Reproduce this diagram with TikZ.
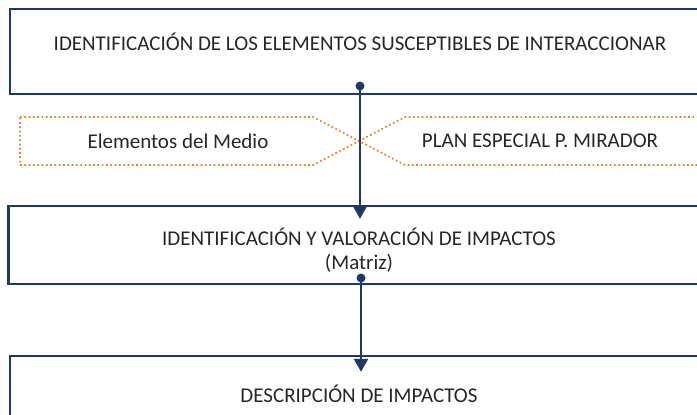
\documentclass[tikz,border=0pt]{standalone}
\usepackage{fontspec}
\setmainfont{Carlito}
\usetikzlibrary{arrows.meta}
\definecolor{navy}{HTML}{1F3864}
\definecolor{orng}{HTML}{ED7D31}
\definecolor{txt}{HTML}{262626}
\tikzset{
  stagebox/.style={draw=navy, line width=2.4pt, rectangle, inner sep=0pt},
  stagetext/.style={text=txt, font=\fontsize{21}{24}\selectfont, align=center, inner sep=0pt},
  sidetext/.style={text=txt, font=\fontsize{21}{24}\selectfont, inner sep=0pt},
  pin/.style={circle, fill=navy, inner sep=0pt, minimum size=9pt},
  flow/.style={draw=navy, line width=2.4pt, -{Triangle[width=14pt,length=13pt]}},
  dotline/.style={draw=orng, line width=1.7pt, dash pattern=on 1.7pt off 2.6pt}
}
\begin{document}
\begin{tikzpicture}[x=1pt,y=-1pt]
\useasboundingbox (0,0) rectangle (697,415);
\clip (0,0) rectangle (697,415);
% boxes
\node[stagebox, minimum width=700pt, minimum height=85pt] (box1) at (360,51.5) {};
\node[stagetext] (t1) at (360,42) {IDENTIFICACIÓN DE LOS ELEMENTOS SUSCEPTIBLES DE INTERACCIONAR};
\node[stagebox, minimum width=702pt, minimum height=78pt] (box2) at (359.5,245) {};
\node[stagetext] (t2) at (359,250) {IDENTIFICACIÓN Y VALORACIÓN DE IMPACTOS\\(Matriz)};
\node[stagebox, minimum width=700pt, minimum height=90pt] (box3) at (360,401) {};
\node[stagetext] (t3) at (359,394) {DESCRIPCIÓN DE IMPACTOS};
% orange dotted pointers
\coordinate (tip) at (359,141);
\draw[dotline] (20,117) -- (313,117) -- (tip) -- (313,165) -- (20,165) -- cycle;
\draw[dotline] (720,117) -- (405,117) -- (tip) -- (405,165) -- (720,165);
\node[sidetext] (medio) at (178,141) {Elementos del Medio};
\node[sidetext] (plan) at (540,141) {PLAN ESPECIAL P. MIRADOR};
% pins and arrows
\node[pin] (d1) at (360,86) {};
\node[pin] (d2) at (361,278) {};
\draw[flow, shorten >=-14pt] (d1.center) -- (d1.center |- box2.north);
\draw[flow, shorten >=-17pt] (d2.center) -- (d2.center |- box3.north);
\end{tikzpicture}
\end{document}
